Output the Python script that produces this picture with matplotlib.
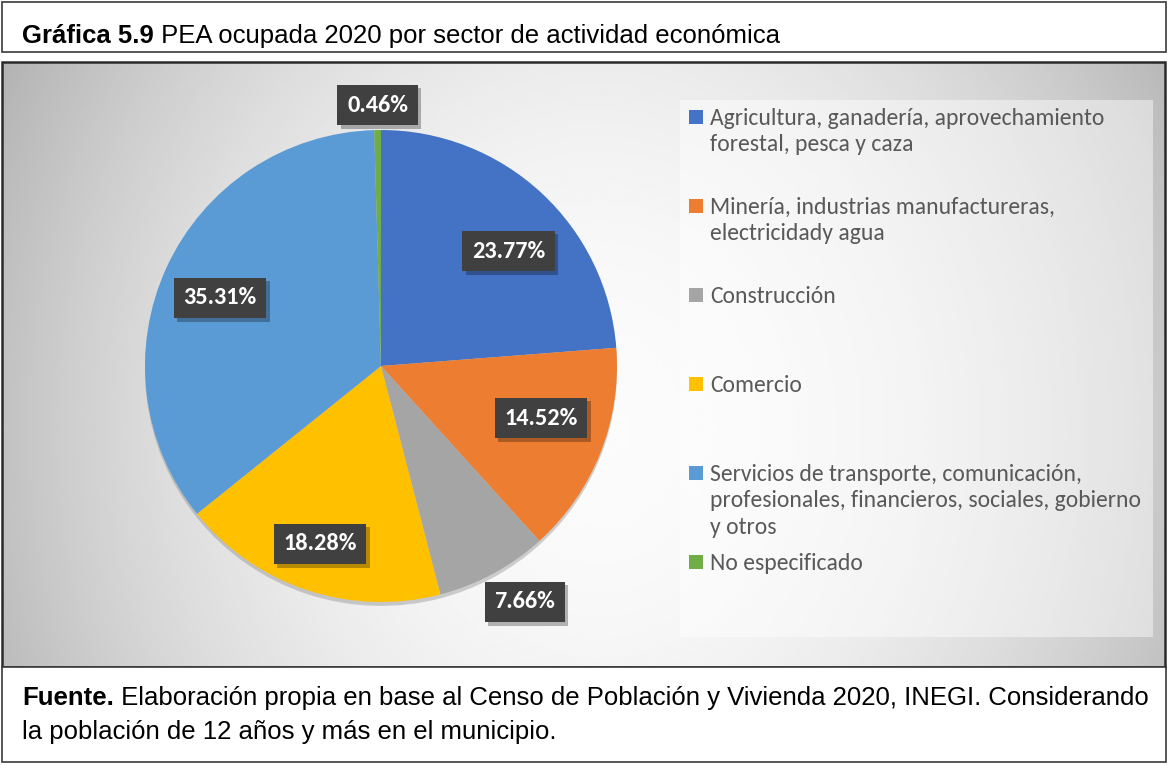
import numpy as np
import matplotlib
matplotlib.use("Agg")
import matplotlib.pyplot as plt
from matplotlib.patches import Rectangle
import matplotlib.patheffects as pe
from matplotlib import font_manager

# ---------------- data ----------------
categories = [
    "Agricultura, ganadería, aprovechamiento\nforestal, pesca y caza",
    "Minería, industrias manufactureras,\nelectricidady agua",
    "Construcción",
    "Comercio",
    "Servicios de transporte, comunicación,\nprofesionales, financieros, sociales, gobierno\ny otros",
    "No especificado",
]
values = [23.77, 14.52, 7.66, 18.28, 35.31, 0.46]
colors = ["#4472C4", "#ED7D31", "#A5A5A5", "#FFC000", "#5B9BD5", "#70AD47"]
# data-label placement: radial distance (fraction of radius) and angular shift from wedge middle (deg)
label_dist = [0.727, 0.713, 1.171, 0.797, 0.741, 1.106]
label_shift = [-5.2, 3.7, 3.0, -0.6, 1.9, -0.1]

title_bold = "Gráfica 5.9"
title_rest = " PEA ocupada 2020 por sector de actividad económica"
src_bold = "Fuente."
src_line1 = " Elaboración propia en base al Censo de Población y Vivienda 2020, INEGI. Considerando"
src_line2 = "la población de 12 años y más en el municipio."

# ---------------- fonts ----------------
avail = {f.name for f in font_manager.fontManager.ttflist}
narrow = "Liberation Sans Narrow" if "Liberation Sans Narrow" in avail else "Liberation Sans"
calib = "Carlito" if "Carlito" in avail else ("Lato" if "Lato" in avail else "DejaVu Sans")
head_fs = 21.5 if narrow.endswith("Narrow") else 18.5

W, H = 1167, 765
fig = plt.figure(figsize=(W / 100, H / 100), dpi=100)
fig.patch.set_facecolor("white")

bg = fig.add_axes([0, 0, 1, 1])
bg.set_xlim(0, W)
bg.set_ylim(H, 0)
bg.axis("off")

# chart area gradient
cx0, cy0, cx1, cy1 = 2, 62, 1165, 667
xs = np.linspace(cx0, cx1, 400)
ys = np.linspace(cy0, cy1, 220)
XX, YY = np.meshgrid(xs, ys)
dx = (XX - 600) / 580.0
dy = (YY - 430) / 680.0
r = np.sqrt(dx ** 2 + dy ** 2)
v = 0.985 - 0.21 * np.clip(r, 0, 1.3) ** 2
bg.imshow(v, cmap="gray", vmin=0, vmax=1, extent=(cx0, cx1, cy1, cy0),
          aspect="auto", interpolation="bilinear", zorder=0)

# boxes
bg.add_patch(Rectangle((1.5, 2), W - 3, 50, fill=False, ec="#3a3a3a", lw=1.2, zorder=5))
bg.add_patch(Rectangle((cx0, cy0), cx1 - cx0, cy1 - cy0, fill=False, ec="#2a2a2a", lw=1.8, zorder=5))
bg.add_patch(Rectangle((1.5, cy1), W - 3, 762 - cy1, fill=True, fc="white", ec="#3a3a3a", lw=1.2, zorder=5))

# legend background
bg.add_patch(Rectangle((680, 100), 473, 537, fc="white", ec="none", alpha=0.45, zorder=1))

# title
hfam = [narrow, "DejaVu Sans"]
tb = bg.text(22, 43, title_bold, fontsize=head_fs, fontweight="bold", family=hfam,
             va="baseline", ha="left", color="black", zorder=6)
bg.annotate(title_rest, xy=(1, 0), xycoords=tb, va="bottom", ha="left", fontsize=head_fs,
            family=hfam, color="black", zorder=6)

# footer
fb = bg.text(22, 705, src_bold, fontsize=head_fs, fontweight="bold", family=hfam,
             va="baseline", ha="left", color="black", zorder=6)
bg.annotate(src_line1, xy=(1, 0), xycoords=fb, va="bottom", ha="left", fontsize=head_fs,
            family=hfam, color="black", zorder=6)
bg.text(22, 739, src_line2, fontsize=head_fs, family=hfam,
        va="baseline", ha="left", color="black", zorder=6)

# ---------------- pie ----------------
R_px = 236.0
cxp, cyp = 381.0, 366.0
L = 1.3
S = 2 * R_px * L
ax = fig.add_axes([(cxp - S / 2) / W, (H - cyp - S / 2) / H, S / W, S / H])
ax.patch.set_alpha(0)

wedges, _ = ax.pie(values, colors=colors, startangle=90, counterclock=False, radius=1,
                   wedgeprops=dict(linewidth=0),
                   shadow=dict(ox=0.0, oy=-0.012, facecolor="#7a7a7a", edgecolor="none", alpha=0.35))
ax.set_xlim(-L, L)
ax.set_ylim(-L, L)
ax.set_aspect("equal")
ax.axis("off")

for w, val, d, sh in zip(wedges, values, label_dist, label_shift):
    ang = np.deg2rad((w.theta1 + w.theta2) / 2 + sh)
    t = ax.text(d * np.cos(ang), d * np.sin(ang), f"{val:.2f}%", ha="center", va="center",
                fontsize=17.5, fontweight="bold", color="white", family=[calib, "DejaVu Sans"],
                zorder=10,
                bbox=dict(boxstyle="square,pad=0.4", fc="#404040", ec="none", lw=0.0))
    t.get_bbox_patch().set_path_effects([
        pe.SimplePatchShadow(offset=(2.5, -2.5), shadow_rgbFace="#000000", alpha=0.28),
        pe.Normal()])

# ---------------- legend ----------------
slot = 89.0
for i, (w, lab) in enumerate(zip(wedges, categories)):
    ytop = 117 + i * slot
    bg.add_patch(Rectangle((689, ytop - 7), 14, 14, fc=w.get_facecolor(), ec="none", zorder=6))
    bg.text(710, ytop - 9, lab, fontsize=17, family=[calib, "DejaVu Sans"], color="#595959",
            ha="left", va="top", linespacing=1.32, zorder=6)

fig.savefig("out.png", dpi=100)
